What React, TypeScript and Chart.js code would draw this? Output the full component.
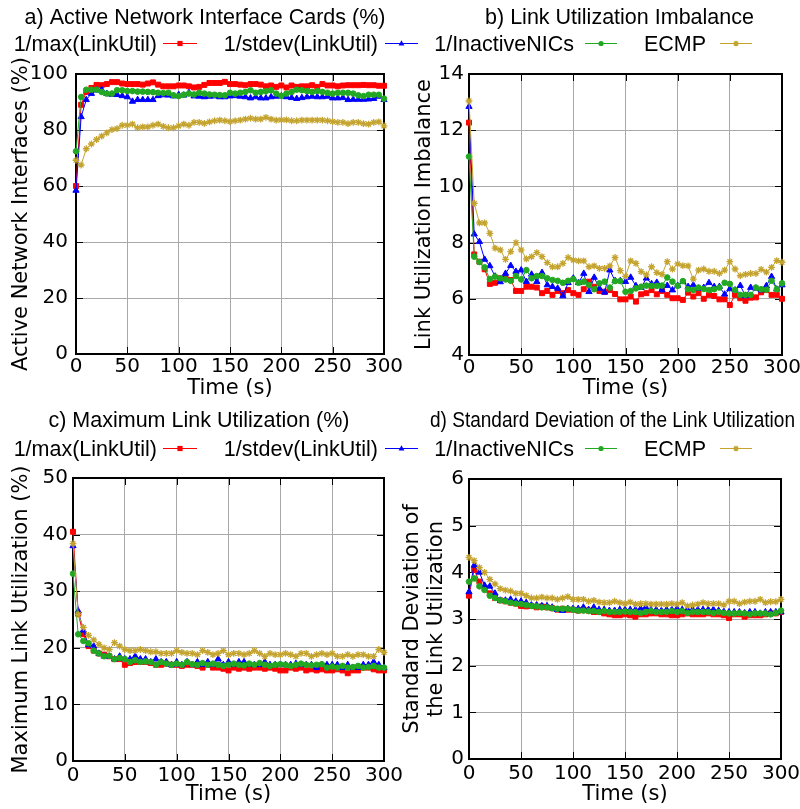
import React, { useEffect, useRef } from 'react';
import { Chart, registerables } from 'chart.js';

Chart.register(...registerables);

// ---------------- data ----------------
const TIME = [0, 5, 10, 15, 20, 25, 30, 35, 40, 45, 50, 55, 60, 65, 70, 75, 80, 85, 90, 95,
  100, 105, 110, 115, 120, 125, 130, 135, 140, 145, 150, 155, 160, 165, 170, 175, 180, 185, 190, 195,
  200, 205, 210, 215, 220, 225, 230, 235, 240, 245, 250, 255, 260, 265, 270, 275, 280, 285, 290, 295, 300];

const SERIES_NAMES = ['1/max(LinkUtil)', '1/stdev(LinkUtil)', '1/InactiveNICs', 'ECMP'];

// a) Active Network Interface Cards (%)
const MAX_A = [60, 89, 93.6, 95, 96.1, 96, 96.4, 97.1, 97.1, 96.6,
  96.4, 96.4, 96.4, 96.2, 96.6, 97, 96.2, 95.6, 95.6, 95.6,
  95.9, 95.9, 95.6, 95.2, 95.4, 96.1, 96.8, 96.8, 96.8, 97.2,
  96.4, 96.4, 96.2, 96, 96.4, 96.4, 96.2, 95.6, 95.9, 95.4,
  95.9, 95.2, 95.9, 95.4, 95.6, 95.6, 96, 95.4, 96.4, 95.9,
  95.9, 95.6, 95.9, 96, 96, 96, 96.1, 96, 96, 95.8, 95.8];
const STDEV_A = [58.4, 84.7, 90.8, 93, 94.2, 94.4, 93, 92.7, 92.6, 92.2,
  91.8, 90.2, 90.8, 90.8, 90.8, 90.8, 92.2, 92.5, 92.4, 92.1,
  92.6, 92.4, 93.3, 92.1, 92, 91.8, 92, 92.1, 91.8, 91.8,
  92.1, 92.2, 92, 91.8, 91.4, 91.8, 91.4, 91.4, 91.8, 92,
  92.1, 91.8, 91.5, 91.2, 91.5, 91.8, 92, 91.8, 91.8, 92,
  91.4, 91.4, 91.5, 90.8, 90.9, 90.9, 90.9, 91, 91.2, 92, 90.8];
const INACTIVE_A = [72.4, 91.8, 94.4, 94.4, 94.4, 93.6, 93, 93, 94.2, 94.2,
  93.9, 93.9, 93.7, 93.7, 93.6, 93.5, 93.3, 93.2, 93.3, 92.4,
  92.1, 92.6, 93, 92.7, 93.3, 93, 92.7, 92.6, 92.5, 92.4,
  93.3, 93, 93.3, 93.6, 94.2, 93.3, 93.6, 93.8, 94.2, 93,
  92.2, 93, 93.6, 94.4, 94.2, 93.9, 93.6, 93.9, 93.6, 93.3,
  93, 93.3, 93.3, 93.3, 93, 92.4, 92.1, 92.6, 92.6, 92.6, 91.2];
const ECMP_A = [69.2, 67.5, 73.3, 75, 76.6, 77.8, 79, 80.1, 80.5, 81.7,
  81.7, 82.1, 80.8, 81.1, 81.1, 81.7, 82.1, 81.3, 80.8, 80.8,
  81.5, 82.1, 81.7, 82.7, 82.7, 82.4, 82.9, 83.3, 83.5, 83.3,
  83, 83.3, 83.5, 83.9, 84.2, 83.9, 83.9, 84.5, 83.9, 83.5,
  83.6, 83.6, 83.3, 83.3, 83.5, 83.5, 83.5, 83.5, 83.5, 83.3,
  83, 82.7, 82.7, 82.3, 82.7, 82.7, 82.3, 82.1, 82.7, 82.9, 81.5];

// b) Link Utilization Imbalance
const MAX_B = [12.27, 7.58, 7.32, 7.05, 6.53, 6.57, 6.73, 6.73, 6.67, 6.28,
  6.28, 6.43, 6.43, 6.4, 6.2, 6.28, 6.14, 6.28, 6.2, 6.31,
  6.2, 6.14, 6.34, 6.61, 6.43, 6.28, 6.25, 6.31, 6.17, 5.98,
  5.98, 6.08, 5.9, 6.16, 6.2, 6.31, 6.16, 6.28, 6.14, 6.02,
  6.02, 5.96, 6.22, 6.08, 6.2, 6.0, 6.14, 6.1, 5.98, 5.98,
  5.78, 6.14, 6.02, 5.93, 6.04, 6.05, 6.23, 6.31, 6.14, 6.14, 6.0];
const STDEV_B = [12.84, 8.3, 8.03, 7.4, 7.17, 6.8, 6.6, 6.9, 7.18, 6.97,
  7.02, 6.61, 6.87, 6.61, 6.93, 6.49, 6.43, 6.37, 6.1, 6.57,
  6.73, 6.57, 6.9, 6.25, 6.76, 6.37, 6.23, 7.02, 6.64, 6.64,
  6.61, 6.76, 6.46, 6.4, 6.73, 6.53, 6.58, 6.31, 6.47, 6.31,
  6.47, 6.61, 6.43, 6.49, 6.37, 6.4, 6.57, 6.43, 6.43, 6.16,
  6.35, 6.31, 6.47, 6.1, 6.4, 6.37, 6.31, 6.46, 6.79, 6.34, 6.49];
const INACTIVE_B = [11.06, 7.5, 7.31, 7.12, 6.7, 6.79, 6.73, 6.69, 6.64, 6.81,
  6.69, 7.02, 6.73, 6.81, 6.81, 6.73, 6.67, 6.64, 6.57, 6.64,
  6.7, 6.57, 6.61, 6.49, 6.34, 6.55, 6.61, 6.4, 6.63, 6.63,
  6.25, 6.28, 6.37, 6.43, 6.47, 6.46, 6.46, 6.47, 6.76, 6.61,
  6.46, 6.63, 6.34, 6.31, 6.4, 6.35, 6.31, 6.34, 6.4, 6.57,
  6.53, 6.31, 6.14, 6.14, 6.14, 6.4, 6.34, 6.32, 6.64, 6.34, 6.55];
const ECMP_B = [13.04, 9.4, 8.7, 8.7, 8.33, 7.8, 7.74, 7.4, 7.68, 8.0,
  7.74, 7.42, 7.5, 7.64, 7.5, 7.29, 7.14, 7.14, 7.26, 7.47,
  7.38, 7.35, 7.35, 7.14, 7.17, 7.08, 7.08, 7.17, 7.47, 7.0,
  6.8, 7.35, 7.26, 6.97, 6.85, 7.14, 6.93, 6.87, 7.32, 7.06,
  7.24, 7.18, 7.17, 6.7, 7.02, 7.06, 6.98, 6.98, 6.9, 7.02,
  7.32, 7.06, 6.82, 6.87, 6.9, 6.9, 7.05, 6.95, 7.12, 7.36, 7.3];

// c) Maximum Link Utilization (%)
const MAX_C = [40.5, 26, 22.4, 20.3, 19.5, 19, 18.8, 18.5, 18, 18,
  17, 17.3, 17.5, 17.5, 17.5, 17.3, 17, 17, 17.2, 17,
  17, 16.8, 17, 17, 16.8, 16.5, 17, 16.5, 16.5, 16.3,
  16, 16.5, 16.3, 16.5, 16.3, 16.5, 16.5, 16.3, 16.5, 16.3,
  16, 16, 16.5, 16.3, 16.5, 16, 16.2, 16, 16.2, 16,
  16, 16.2, 16, 15.5, 16, 16, 16.5, 16.5, 16.2, 16, 16];
const STDEV_C = [38, 26.5, 23.1, 20.5, 20.3, 19, 18.5, 18.5, 18, 18.5,
  18, 18, 18.5, 18, 18, 17.5, 18, 17.5, 17.5, 17,
  17.5, 17, 17.5, 17, 17.5, 17, 17.5, 17, 18, 17,
  17.5, 17, 17.5, 17.5, 17, 17, 17, 17.5, 17, 17,
  17, 17, 17, 17.2, 17, 17, 17, 16.5, 17, 17,
  17, 17, 16.5, 17, 16.5, 16.5, 17, 17, 17.5, 17, 16.5];
const INACTIVE_C = [33.1, 22.4, 21.2, 20.8, 19.5, 19, 18.5, 18.6, 18, 18.2,
  18, 17.5, 17.8, 17.5, 17.6, 17.5, 17, 17.5, 17.2, 17,
  17.2, 17, 17.5, 17.1, 17, 17.3, 17, 17.2, 17, 16.8,
  17, 17.2, 17, 16.9, 17.2, 17, 17.3, 17, 16.8, 17,
  17.1, 17, 16.8, 17, 17.2, 17, 16.9, 17, 17.1, 16.5,
  16.7, 16.5, 16.8, 16.5, 16.6, 16.8, 16.5, 16.6, 16.8, 16.5, 16.5];
const ECMP_C = [38.4, 25.9, 23.6, 22.2, 21.4, 20.6, 20, 19.7, 20.9, 20.3,
  19.7, 19.5, 19.5, 19.7, 19.5, 19.3, 19.3, 19, 19, 19,
  19.5, 19.2, 19, 19, 18.8, 19.5, 19.2, 18.8, 19, 19.5,
  18.8, 19, 19, 18.8, 19, 19.5, 19, 18.5, 19, 18.8,
  18.8, 19, 18.8, 18.5, 19, 19, 18.5, 18.8, 19, 18.8,
  19, 18.5, 18.5, 18.8, 18.5, 18.8, 18.8, 18.5, 18.5, 19.7, 19.2];

// d) Standard Deviation of the Link Utilization
const MAX_D = [3.5, 4.05, 3.8, 3.65, 3.55, 3.45, 3.4, 3.38, 3.35, 3.33,
  3.28, 3.27, 3.28, 3.25, 3.27, 3.25, 3.23, 3.2, 3.22, 3.2,
  3.2, 3.18, 3.2, 3.18, 3.15, 3.15, 3.12, 3.1, 3.08, 3.08,
  3.1, 3.08, 3.05, 3.1, 3.1, 3.12, 3.12, 3.1, 3.1, 3.08,
  3.08, 3.1, 3.12, 3.1, 3.1, 3.1, 3.12, 3.1, 3.1, 3.08,
  3.02, 3.1, 3.1, 3.05, 3.08, 3.08, 3.08, 3.1, 3.12, 3.12, 3.15];
const STDEV_D = [3.58, 4.15, 4.0, 3.72, 3.7, 3.55, 3.4, 3.4, 3.42, 3.38,
  3.38, 3.35, 3.3, 3.3, 3.28, 3.28, 3.25, 3.2, 3.18, 3.22,
  3.22, 3.22, 3.25, 3.2, 3.25, 3.2, 3.2, 3.18, 3.18, 3.2,
  3.2, 3.2, 3.2, 3.22, 3.25, 3.2, 3.2, 3.18, 3.2, 3.2,
  3.22, 3.2, 3.2, 3.2, 3.2, 3.2, 3.2, 3.2, 3.18, 3.16,
  3.15, 3.15, 3.15, 3.13, 3.15, 3.15, 3.12, 3.15, 3.15, 3.15, 3.15];
const INACTIVE_D = [3.8, 3.87, 3.7, 3.62, 3.5, 3.45, 3.4, 3.38, 3.35, 3.33,
  3.32, 3.3, 3.28, 3.27, 3.25, 3.25, 3.23, 3.22, 3.22, 3.22,
  3.2, 3.18, 3.18, 3.17, 3.17, 3.15, 3.17, 3.15, 3.15, 3.15,
  3.16, 3.15, 3.15, 3.13, 3.15, 3.17, 3.15, 3.15, 3.15, 3.17,
  3.15, 3.17, 3.13, 3.15, 3.15, 3.15, 3.15, 3.13, 3.15, 3.13,
  3.12, 3.12, 3.13, 3.12, 3.1, 3.12, 3.12, 3.12, 3.1, 3.13, 3.18];
const ECMP_D = [4.32, 4.25, 4.1, 4.0, 3.85, 3.75, 3.65, 3.62, 3.6, 3.55,
  3.55, 3.5, 3.45, 3.45, 3.47, 3.45, 3.45, 3.42, 3.45, 3.48,
  3.42, 3.42, 3.42, 3.38, 3.4, 3.36, 3.35, 3.35, 3.38, 3.35,
  3.33, 3.36, 3.32, 3.33, 3.33, 3.32, 3.32, 3.32, 3.32, 3.33,
  3.32, 3.35, 3.28, 3.3, 3.32, 3.35, 3.33, 3.33, 3.33, 3.3,
  3.38, 3.38, 3.33, 3.36, 3.38, 3.38, 3.42, 3.35, 3.37, 3.37, 3.42];

// ---------------- styles ----------------
const COLORS = ['#ff0000', '#0000ff', '#22a822', '#c4a42e'];
const POINT_STYLES = ['rect', 'triangle', 'circle', 'star'];
const POINT_RADII = [3.5, 3.6, 2.8, 3.4];

const TICK_FONT = { family: 'DejaVu Sans', size: 20 };
const AXIS_FONT = { family: 'DejaVu Sans', size: 21 };
const HEAD_FONT = '21.5px "Liberation Sans", Arial, sans-serif';

const LEGEND_ENTRIES = [
  { textRight: 157, x1: 163, x2: 197 },
  { textRight: 378, x1: 385, x2: 418 },
  { textRight: 574, x1: 585, x2: 617 },
  { textRight: 706, x1: 720, x2: 752 },
];

const PANELS = [
  {
    key: 'a', left: 0, top: 0, w: 800, h: 404,
    area: { l: 76, r: 384, t: 74, b: 354 },
    title: 'a) Active Network Interface Cards (%)', titleX: 205, titleY: 18, titleMaxW: 400,
    legendY: 44,
    yTitle: 'Active Network Interfaces (%)', yTitlePad: 9.4, yTitleLH: 1.2,
    yMin: 0, yMax: 100, yStep: 20, yTickPad: 8, xTickPad: 1, xTitlePad: 2.4,
    series: [MAX_A, STDEV_A, INACTIVE_A, ECMP_A],
  },
  {
    key: 'b', left: 400, top: 0, w: 400, h: 404,
    area: { l: 69, r: 382, t: 74, b: 355 },
    title: 'b) Link Utilization Imbalance', titleX: 219.5, titleY: 18, titleMaxW: 400,
    legendY: null,
    yTitle: 'Link Utilization Imbalance', yTitlePad: 12.4, yTitleLH: 1.2,
    yMin: 4, yMax: 14, yStep: 2, yTickPad: 5, xTickPad: 1, xTitlePad: 2.4,
    series: [MAX_B, STDEV_B, INACTIVE_B, ECMP_B],
  },
  {
    key: 'c', left: 0, top: 404, w: 800, h: 405,
    area: { l: 73, r: 384, t: 74, b: 357 },
    title: 'c) Maximum Link Utilization (%)', titleX: 199, titleY: 17, titleMaxW: 400,
    legendY: 45,
    yTitle: 'Maximum Link Utilization (%)', yTitlePad: 9.4, yTitleLH: 1.2,
    yMin: 0, yMax: 50, yStep: 10, yTickPad: 5, xTickPad: 3, xTitlePad: 1.4,
    series: [MAX_C, STDEV_C, INACTIVE_C, ECMP_C],
  },
  {
    key: 'd', left: 400, top: 404, w: 400, h: 405,
    area: { l: 69, r: 381, t: 75, b: 355 },
    title: 'd) Standard Deviation of the Link Utilization', titleX: 212.5, titleY: 17, titleMaxW: 365,
    legendY: null,
    yTitle: ['Standard Deviation of', 'the Link Utilization'], yTitlePad: 1, yTitleLH: 1.143,
    yMin: 0, yMax: 6, yStep: 1, yTickPad: 5, xTickPad: 3, xTitlePad: 1.4,
    series: [MAX_D, STDEV_D, INACTIVE_D, ECMP_D],
  },
];

function drawMarker(ctx: CanvasRenderingContext2D, style: string, x: number, y: number, color: string) {
  ctx.save();
  ctx.fillStyle = color;
  ctx.strokeStyle = color;
  ctx.lineWidth = 1.3;
  ctx.beginPath();
  if (style === 'rect') {
    ctx.fillRect(x - 2.6, y - 2.6, 5.2, 5.2);
  } else if (style === 'triangle') {
    ctx.moveTo(x, y - 3.2);
    ctx.lineTo(x + 2.9, y + 2);
    ctx.lineTo(x - 2.9, y + 2);
    ctx.closePath();
    ctx.fill();
  } else if (style === 'circle') {
    ctx.arc(x, y, 2.6, 0, Math.PI * 2);
    ctx.fill();
  } else {
    const r = 2.8;
    ctx.moveTo(x - r, y); ctx.lineTo(x + r, y);
    ctx.moveTo(x, y - r); ctx.lineTo(x, y + r);
    ctx.moveTo(x - r * 0.7, y - r * 0.7); ctx.lineTo(x + r * 0.7, y + r * 0.7);
    ctx.moveTo(x - r * 0.7, y + r * 0.7); ctx.lineTo(x + r * 0.7, y - r * 0.7);
    ctx.stroke();
  }
  ctx.restore();
}

function makeFramePlugin() {
  return {
    id: 'gnuFrame',
    beforeDatasetsDraw(chart: any) {
      const { ctx, chartArea } = chart;
      const { left, right, top, bottom } = chartArea;
      const xs = chart.scales.x;
      const ys = chart.scales.y;
      const tl = 7;
      ctx.save();
      ctx.strokeStyle = '#000';
      ctx.lineWidth = 1;
      ctx.beginPath();
      xs.ticks.forEach((t: any) => {
        const px = Math.round(xs.getPixelForValue(t.value)) + 0.5;
        ctx.moveTo(px, bottom); ctx.lineTo(px, bottom - tl);
        ctx.moveTo(px, top); ctx.lineTo(px, top + tl);
      });
      ys.ticks.forEach((t: any) => {
        const py = Math.round(ys.getPixelForValue(t.value)) + 0.5;
        ctx.moveTo(left, py); ctx.lineTo(left + tl, py);
        ctx.moveTo(right, py); ctx.lineTo(right - tl, py);
      });
      ctx.stroke();
      ctx.lineWidth = 2;
      ctx.strokeRect(left, top, right - left, bottom - top);
      ctx.restore();
    },
  };
}

function makeTextPlugin(panel: any) {
  return {
    id: 'gnuText',
    afterDraw(chart: any) {
      const ctx = chart.ctx as CanvasRenderingContext2D;
      ctx.save();
      ctx.font = HEAD_FONT;
      ctx.fillStyle = '#000';
      ctx.textBaseline = 'middle';
      ctx.textAlign = 'center';
      ctx.fillText(panel.title, panel.titleX, panel.titleY, panel.titleMaxW);
      if (panel.legendY !== null) {
        const y = panel.legendY;
        LEGEND_ENTRIES.forEach((e, i) => {
          ctx.font = HEAD_FONT;
          ctx.fillStyle = '#000';
          ctx.textAlign = 'right';
          ctx.fillText(SERIES_NAMES[i], e.textRight, y + 1);
          ctx.strokeStyle = COLORS[i];
          ctx.lineWidth = 1;
          ctx.beginPath();
          ctx.moveTo(e.x1, y - 0.5);
          ctx.lineTo(e.x2, y - 0.5);
          ctx.stroke();
          drawMarker(ctx, POINT_STYLES[i], (e.x1 + e.x2) / 2, y - 0.5, COLORS[i]);
        });
      }
      ctx.restore();
    },
  };
}

function buildConfig(panel: any): any {
  const datasets = panel.series.map((vals: number[], i: number) => ({
    label: SERIES_NAMES[i],
    data: TIME.map((t, k) => ({ x: t, y: vals[k] })),
    borderColor: COLORS[i],
    backgroundColor: COLORS[i],
    borderWidth: 1,
    pointStyle: POINT_STYLES[i],
    pointRadius: POINT_RADII[i],
    pointBorderWidth: i === 3 ? 1.3 : 1,
    pointBackgroundColor: COLORS[i],
    pointBorderColor: COLORS[i],
    tension: 0,
    fill: false,
    clip: false,
    order: 3 - i,
  }));
  return {
    type: 'line',
    data: { datasets },
    options: {
      responsive: false,
      animation: false,
      events: [],
      layout: {
        padding: { left: 0, top: panel.area.t, right: panel.w - panel.area.r, bottom: 0 },
      },
      plugins: {
        legend: { display: false },
        title: { display: false },
        tooltip: { enabled: false },
      },
      scales: {
        x: {
          type: 'linear',
          min: 0,
          max: 300,
          ticks: {
            stepSize: 50,
            font: TICK_FONT,
            color: '#000',
            padding: panel.xTickPad,
            maxRotation: 0,
            autoSkip: false,
          },
          grid: { color: '#a8a8a8', lineWidth: 1, drawTicks: false },
          border: { display: false },
          title: {
            display: true,
            text: 'Time (s)',
            font: AXIS_FONT,
            color: '#000',
            padding: { top: 0, bottom: panel.xTitlePad },
          },
          afterFit: (s: any) => {
            s.height = panel.h - panel.area.b;
            s.paddingLeft = 0;
            s.paddingRight = 0;
          },
        },
        y: {
          type: 'linear',
          min: panel.yMin,
          max: panel.yMax,
          ticks: {
            stepSize: panel.yStep,
            font: TICK_FONT,
            color: '#000',
            padding: panel.yTickPad,
            autoSkip: false,
          },
          grid: { color: '#a8a8a8', lineWidth: 1, drawTicks: false },
          border: { display: false },
          title: {
            display: true,
            text: panel.yTitle,
            font: { ...AXIS_FONT, lineHeight: panel.yTitleLH },
            color: '#000',
            padding: { top: panel.yTitlePad, bottom: 0 },
          },
          afterFit: (s: any) => {
            s.width = panel.area.l;
            s.paddingTop = 0;
            s.paddingBottom = 0;
          },
        },
      },
    },
    plugins: [makeFramePlugin(), makeTextPlugin(panel)],
  };
}

function Panel({ panel, z }: { panel: any; z: number }) {
  const ref = useRef<HTMLCanvasElement | null>(null);
  useEffect(() => {
    if (!ref.current) return;
    const chart = new Chart(ref.current, buildConfig(panel));
    return () => chart.destroy();
  }, [panel]);
  return (
    <canvas
      ref={ref}
      width={panel.w}
      height={panel.h}
      style={{
        position: 'absolute',
        left: panel.left,
        top: panel.top,
        width: panel.w,
        height: panel.h,
        zIndex: z,
      }}
    />
  );
}

export default function App() {
  useEffect(() => {
    document.body.style.margin = '0';
    document.body.style.background = '#ffffff';
  }, []);
  return (
    <div style={{ position: 'relative', width: 800, height: 809, background: '#fff', overflow: 'hidden' }}>
      {PANELS.map((p, i) => (
        <Panel key={p.key} panel={p} z={i + 1} />
      ))}
    </div>
  );
}
